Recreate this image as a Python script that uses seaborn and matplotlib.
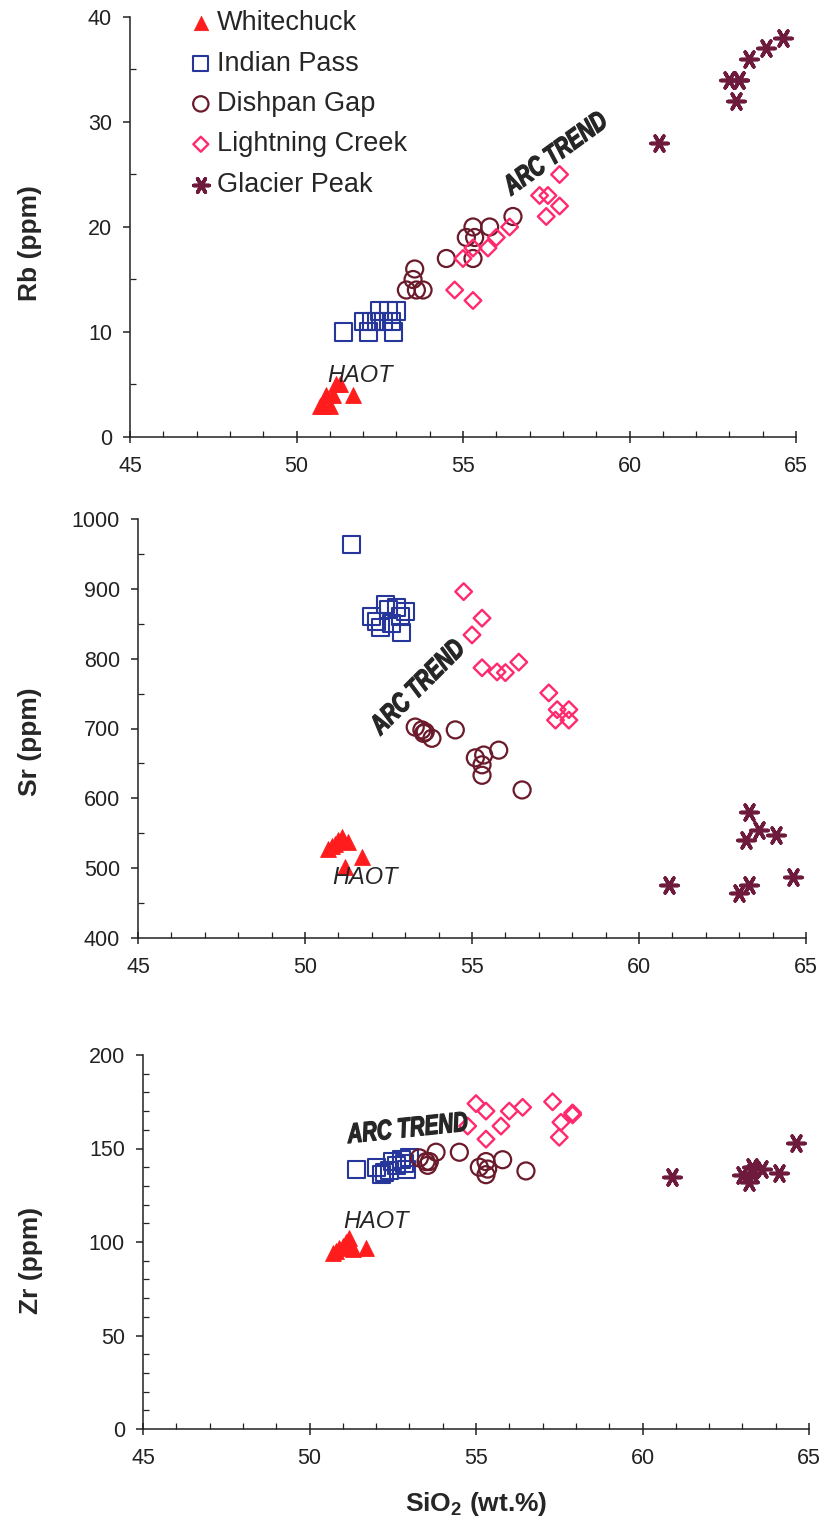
import numpy as np
import pandas as pd
import matplotlib
matplotlib.use("Agg")
import matplotlib.pyplot as plt
from matplotlib.ticker import MultipleLocator
from matplotlib.patheffects import AbstractPathEffect
from matplotlib.transforms import Affine2D
import seaborn as sns

# ---- Sample data: SiO2 (wt.%) with Rb, Sr, Zr (ppm) for each eruptive suite ----
suites = ["Whitechuck", "Indian Pass", "Dishpan Gap", "Lightning Creek", "Glacier Peak"]

wc_sio2 = [50.7, 50.8, 50.9, 51.0, 51.1, 51.2, 51.3, 51.7]
wc_rb = [3, 3, 4, 3, 4, 5, 5, 4]
wc_sr = [528, 532, 535, 540, 545, 502, 538, 516]
wc_zr = [94, 95, 97, 98, 100, 102, 96, 97]

ip_sio2 = [51.4, 52.0, 52.15, 52.25, 52.4, 52.5, 52.6, 52.75, 52.85, 52.9, 53.0]
ip_rb = [10, 11, 10, 11, 11, 12, 11, 12, 11, 10, 12]
ip_sr = [963, 860, 853, 845, 877, 870, 851, 873, 860, 837, 867]
ip_zr = [139, 140, 136, 137, 138, 143, 141, 144, 142, 139, 145]

dg_sio2 = [53.3, 53.5, 53.55, 53.6, 53.8, 54.5, 55.1, 55.3, 55.3, 55.35, 55.8, 56.5]
dg_rb = [14, 15, 16, 14, 14, 17, 19, 17, 20, 19, 20, 21]
dg_sr = [702, 698, 693, 695, 686, 698, 658, 648, 633, 662, 669, 612]
dg_zr = [145, 143, 141, 143, 148, 148, 140, 136, 143, 139, 144, 138]

lc_sio2 = [54.75, 55.0, 55.3, 55.3, 55.75, 56.0, 56.4, 57.3, 57.5, 57.55, 57.9, 57.9]
lc_rb = [14, 17, 13, 18, 18, 19, 20, 23, 21, 23, 22, 25]
lc_sr = [896, 834, 858, 787, 781, 780, 795, 751, 712, 727, 712, 727]
lc_zr = [162, 174, 170, 155, 162, 170, 172, 175, 156, 164, 168, 169]

gp_sio2 = [60.9, 63.0, 63.2, 63.3, 63.3, 63.6, 64.1, 64.6]
gp_rb = [28, 34, 32, 34, 34, 36, 37, 38]
gp_sr = [476, 464, 540, 476, 580, 555, 548, 487]
gp_zr = [135, 136, 132, 137, 140, 139, 137, 153]

frames = []
for name, si, rb, sr, zr in [
    ("Whitechuck", wc_sio2, wc_rb, wc_sr, wc_zr),
    ("Indian Pass", ip_sio2, ip_rb, ip_sr, ip_zr),
    ("Dishpan Gap", dg_sio2, dg_rb, dg_sr, dg_zr),
    ("Lightning Creek", lc_sio2, lc_rb, lc_sr, lc_zr),
    ("Glacier Peak", gp_sio2, gp_rb, gp_sr, gp_zr),
]:
    frames.append(pd.DataFrame({"suite": name, "SiO2": si, "Rb": rb, "Sr": sr, "Zr": zr}))
df = pd.concat(frames, ignore_index=True)

# ---- Marker styling per suite ----
STAR = (6, 2, 90)
styles = {
    "Whitechuck":      dict(marker="^", s=130, color="#ff1c1c", filled=True, lw=0.6),
    "Indian Pass":     dict(marker="s", s=150, color="#26369a", filled=False, lw=1.5),
    "Dishpan Gap":     dict(marker="o", s=150, color="#6a1a2a", filled=False, lw=1.6),
    "Lightning Creek": dict(marker="D", s=72, color="#ff2a6e", filled=False, lw=1.7),
    "Glacier Peak":    dict(marker=STAR, s=150, color="#6e1a3c", filled=True, lw=2.6),
}


class CondensedHeavy(AbstractPathEffect):
    """Squeeze glyph outlines horizontally about their centre and thicken them."""

    def __init__(self, sx=0.75, stroke=0.9):
        super().__init__()
        self.sx = sx
        self.stroke = stroke

    def draw_path(self, renderer, gc, tpath, affine, rgbFace=None):
        ext = tpath.get_extents()
        cx = 0.5 * (ext.x0 + ext.x1)
        squeeze = Affine2D().translate(-cx, 0).scale(self.sx, 1.0).translate(cx, 0)
        gc0 = renderer.new_gc()
        gc0.copy_properties(gc)
        gc0.set_linewidth(self.stroke)
        gc0.set_foreground(rgbFace if rgbFace is not None else "black")
        renderer.draw_path(gc0, tpath, squeeze + affine, rgbFace)
        gc0.restore()


sns.set_style("ticks")
plt.rcParams["font.family"] = ["Liberation Sans", "DejaVu Sans"]
plt.rcParams["mathtext.fontset"] = "custom"
plt.rcParams["mathtext.rm"] = "Liberation Sans"
plt.rcParams["mathtext.bf"] = "Liberation Sans:bold"
plt.rcParams["axes.edgecolor"] = "#222222"

W, H = 820, 1521
fig = plt.figure(figsize=(W / 100, H / 100), dpi=100)
fig.patch.set_facecolor("white")


def frac(left, right, top, bottom):
    return [left / W, (H - bottom) / H, (right - left) / W, (bottom - top) / H]


panels = [
    dict(var="Rb", rect=frac(130, 796, 17, 437), ylim=(0, 40), major=10, minor=5,
         ylabel="Rb (ppm)", ylab=(-0.132, 0.462),
         haot=(51.9, 5.9), arc=(57.8, 26.9, 36)),
    dict(var="Sr", rect=frac(138, 806, 519, 938), ylim=(400, 1000), major=100, minor=50,
         ylabel="Sr (ppm)", ylab=(-0.144, 0.468),
         haot=(51.8, 487), arc=(53.4, 758, 45)),
    dict(var="Zr", rect=frac(143, 809, 1055, 1429), ylim=(0, 200), major=50, minor=10,
         ylabel="Zr (ppm)", ylab=(-0.150, 0.452),
         haot=(52.0, 110.7), arc=(52.95, 160, 6)),
]

axes = []
for i, p in enumerate(panels):
    ax = fig.add_axes(p["rect"])
    axes.append(ax)
    for name in suites:
        st = styles[name]
        sub = df[df["suite"] == name]
        kw = dict(marker=st["marker"], s=st["s"], linewidth=st["lw"],
                  color=st["color"],
                  facecolor=st["color"] if st["filled"] else "none",
                  ax=ax, legend=False, zorder=3)
        if st["marker"] != STAR:
            kw["edgecolor"] = st["color"]
        if i == 0:
            kw["label"] = name
        sns.scatterplot(data=sub, x="SiO2", y=p["var"], **kw)

    ax.set_xlim(45, 65)
    ax.set_ylim(*p["ylim"])
    ax.xaxis.set_major_locator(MultipleLocator(5))
    ax.xaxis.set_minor_locator(MultipleLocator(1))
    ax.yaxis.set_major_locator(MultipleLocator(p["major"]))
    ax.yaxis.set_minor_locator(MultipleLocator(p["minor"]))
    sns.despine(ax=ax)
    for sp in ("left", "bottom"):
        ax.spines[sp].set_linewidth(1.1)
    ax.tick_params(axis="x", which="major", direction="inout", length=9, width=1.1,
                   pad=9, labelsize=15.5, colors="#222222")
    ax.tick_params(axis="x", which="minor", direction="in", length=4, width=0.9,
                   colors="#222222")
    ax.tick_params(axis="y", which="major", direction="out", length=5, width=1.1,
                   pad=8, labelsize=15.5, colors="#222222")
    ax.tick_params(axis="y", which="minor", direction="in", length=4, width=0.9,
                   colors="#222222")

    ax.set_ylabel(p["ylabel"], fontsize=19, fontweight="bold")
    ax.yaxis.set_label_coords(*p["ylab"])
    ax.set_xlabel("")

    hx, hy = p["haot"]
    ax.text(hx, hy, "HAOT", fontsize=17, style="italic", ha="center", va="center",
            zorder=4)
    axx, axy, rot = p["arc"]
    ax.text(axx, axy, "ARC TREND", fontsize=20, fontweight="bold", style="italic",
            rotation=rot, rotation_mode="anchor", ha="center", va="center",
            zorder=4, path_effects=[CondensedHeavy(sx=0.74, stroke=0.9)])

axes[-1].set_xlabel(r"SiO$_\mathbf{2}$ (wt.%)", fontsize=19, fontweight="bold")
axes[-1].xaxis.set_label_coords(0.5, -0.163)

axes[0].legend(loc="upper left", bbox_to_anchor=(0.086, 1.016), frameon=False,
               fontsize=19.5, handletextpad=0.1, labelspacing=0.53, borderaxespad=0,
               borderpad=0, handlelength=1.0, markerscale=0.9)

fig.savefig("out.png", dpi=100, facecolor="white")
